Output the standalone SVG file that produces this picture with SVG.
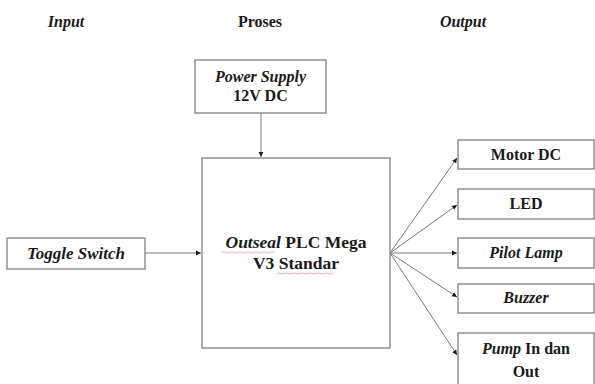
<svg xmlns="http://www.w3.org/2000/svg" width="595" height="384" viewBox="0 0 595 384">
<style>
  text { font-family: "Liberation Serif", "Times New Roman", serif; font-weight: bold; font-size: 16px; fill: #1a1a1a; text-anchor: middle; }
  .it { font-style: italic; }
  .box { fill: #ffffff; stroke: #808080; stroke-width: 1.3; }
  .conn { stroke: #7a7a7a; stroke-width: 1; fill: none; marker-end: url(#arr); }
  .squig { stroke: #f2c6cc; stroke-width: 1.4; fill: none; }
</style>
<defs>
  <marker id="arr" markerWidth="6" markerHeight="6" refX="5" refY="3" orient="auto" markerUnits="userSpaceOnUse">
    <path d="M0,0.6 L5,3 L0,5.4 Z" fill="#1a1a1a"/>
  </marker>
</defs>
<rect width="595" height="384" fill="#ffffff"/>

<g id="headers">
  <text class="it" x="66" y="27">Input</text>
  <text x="260" y="27">Proses</text>
  <text class="it" x="463" y="27">Output</text>
</g>

<g id="connectors">
  <line class="conn" x1="261" y1="113" x2="261" y2="157"/>
  <line class="conn" x1="145" y1="253" x2="201" y2="253"/>
  <line class="conn" x1="390" y1="253" x2="457" y2="158"/>
  <line class="conn" x1="390" y1="253" x2="457" y2="205"/>
  <line class="conn" x1="390" y1="253" x2="457" y2="253"/>
  <line class="conn" x1="390" y1="253" x2="457" y2="297"/>
  <line class="conn" x1="390" y1="253" x2="457" y2="355"/>
</g>

<g id="power-supply">
  <rect class="box" x="195" y="60" width="131" height="53"/>
  <text class="it" x="260.5" y="82">Power Supply</text>
  <text x="260.5" y="101">12V DC</text>
</g>

<g id="toggle-switch">
  <rect class="box" x="7" y="238" width="138" height="31"/>
  <text class="it" x="76" y="259" style="font-size:17px">Toggle Switch</text>
</g>

<g id="plc">
  <rect class="box" x="202" y="158" width="188" height="190"/>
  <text x="296" y="248" style="font-size:17.5px"><tspan class="it">Outseal</tspan> PLC Mega</text>
  <text x="296" y="269" style="font-size:17.5px">V3 Standar</text>
  <path class="squig" d="M222,252.5 q2,-0.8 4,0 t4,0 t4,0 t4,0 t4,0 t4,0 t4,0 t4,0 t4,0 t4,0 t4,0 t4,0 t4,0"/>
  <path class="squig" d="M277,273.5 q2,-0.8 4,0 t4,0 t4,0 t4,0 t4,0 t4,0 t4,0 t4,0 t4,0 t4,0 t4,0 t4,0 t4,0 t4,0"/>
</g>

<g id="motor-dc">
  <rect class="box" x="458" y="140" width="136" height="29"/>
  <text x="526" y="160">Motor DC</text>
</g>

<g id="led">
  <rect class="box" x="458" y="189" width="136" height="30"/>
  <text x="526" y="209">LED</text>
</g>

<g id="pilot-lamp">
  <rect class="box" x="458" y="238" width="136" height="30"/>
  <text class="it" x="526" y="258">Pilot Lamp</text>
</g>

<g id="buzzer">
  <rect class="box" x="458" y="284" width="136" height="29"/>
  <text class="it" x="526" y="303">Buzzer</text>
</g>

<g id="pump">
  <rect class="box" x="458" y="333" width="136" height="60"/>
  <text x="526" y="354"><tspan class="it">Pump</tspan> In dan</text>
  <text x="526" y="377">Out</text>
</g>
</svg>
